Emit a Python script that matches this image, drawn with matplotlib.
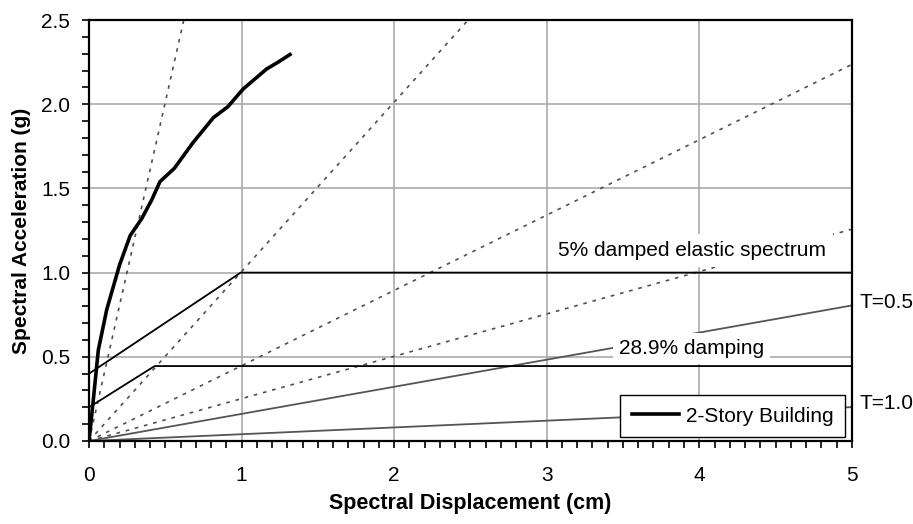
import numpy as np
import matplotlib
matplotlib.use('Agg')
import matplotlib.pyplot as plt
from matplotlib.ticker import MultipleLocator, FormatStrFormatter

plt.rcParams['font.family'] = ['Liberation Sans', 'DejaVu Sans']

# Kapazitaetskurve (2-Story Building)
sd_cap = [0.0, 0.028, 0.061, 0.116, 0.20, 0.27, 0.345, 0.41, 0.465, 0.56,
          0.68, 0.815, 0.91, 1.01, 1.165, 1.24, 1.317]
sa_cap = [0.0, 0.243, 0.54, 0.78, 1.045, 1.22, 1.32, 1.43, 1.54, 1.62,
          1.77, 1.92, 1.985, 2.09, 2.21, 2.25, 2.295]

# elastisches Spektrum 5% und reduziertes Spektrum 28.9%
sd_el = [0.0, 0.994, 5.0]
sa_el = [0.40, 1.0, 1.0]
sd_red = [0.0, 0.43, 5.0]
sa_red = [0.20, 0.445, 0.445]

# Perioden der radialen Linien
T_dashed = [0.1, 0.2, 0.3, 0.4]
T_solid = [0.5, 1.0]
g = 981.0  # cm/s^2

def sa_of(sd, T):
    return (2*np.pi/T)**2 * sd / g

fs = 15

fig = plt.figure(figsize=(9.13, 5.24), dpi=100)
ax = fig.add_axes([0.0975, 0.1584, 0.8355, 0.8034])

x = np.array([0.0, 5.0])
for T in T_dashed:
    ax.plot(x, sa_of(x, T), color='#505050', lw=1.2, ls=(0, (2.2, 3.5)), zorder=2)
for T in T_solid:
    ax.plot(x, sa_of(x, T), color='#555555', lw=1.3, zorder=2)

ax.plot(sd_el, sa_el, color='black', lw=1.3, zorder=5)
ax.plot(sd_red, sa_red, color='black', lw=1.3, zorder=5)
ax.plot(sd_cap, sa_cap, color='black', lw=2.6, zorder=6, label='2-Story Building')

ax.text(3.955, 1.13, '5% damped elastic spectrum', fontsize=fs, ha='center', va='center',
        bbox=dict(facecolor='white', edgecolor='none', pad=5), zorder=4)
ax.text(3.95, 0.55, '28.9% damping', fontsize=fs, ha='center', va='center',
        bbox=dict(facecolor='white', edgecolor='none', pad=4), zorder=4)

ax.text(5.05, 0.82, 'T=0.5', fontsize=fs, ha='left', va='center', clip_on=False)
ax.text(5.05, 0.225, 'T=1.0', fontsize=fs, ha='left', va='center', clip_on=False)

ax.set_xlim(0, 5)
ax.set_ylim(0, 2.5)
ax.xaxis.set_major_locator(MultipleLocator(1))
ax.xaxis.set_minor_locator(MultipleLocator(0.1))
ax.yaxis.set_major_locator(MultipleLocator(0.5))
ax.yaxis.set_minor_locator(MultipleLocator(0.1))
ax.yaxis.set_major_formatter(FormatStrFormatter('%.1f'))
ax.tick_params(which='both', direction='out', length=5, width=1.2, labelsize=fs)
ax.tick_params(axis='x', which='major', pad=13)
ax.tick_params(axis='y', which='major', pad=8.5)
ax.grid(True, which='major', color='#aaaaaa', lw=1.2, zorder=0)
ax.set_axisbelow(True)
for s in ax.spines.values():
    s.set_linewidth(1.6)

ax.set_xlabel('Spectral Displacement (cm)', fontsize=15.5, fontweight='bold', labelpad=5.5)
ax.set_ylabel('Spectral Acceleration (g)', fontsize=fs, fontweight='bold', labelpad=7)

leg = ax.legend(loc='lower right', bbox_to_anchor=(0.9908, 0.0095), borderaxespad=0,
                fontsize=fs, fancybox=False, framealpha=1, edgecolor='black',
                handlelength=2.3, handletextpad=0.3, borderpad=0.55)
leg.get_frame().set_linewidth(1.0)
leg.set_zorder(10)

fig.savefig('out.png', dpi=100)
